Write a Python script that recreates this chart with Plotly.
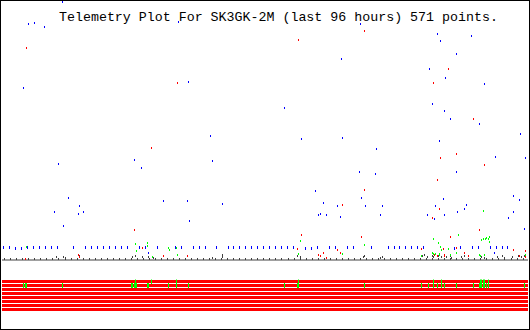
import plotly.graph_objects as go

TITLE = "Telemetry Plot For SK3GK-2M (last 96 hours) 571 points."

# hours within the 96 h window, analog values 0..255
blue_t = [11.1, 4.9, 6.0, 7.7, 32.3, 4.0, 34.1, 65.5, 79.4, 80.1, 85.6, 83.0, 61.9, 78.1, 81.0, 88.0, 78.5, 51.6,
          38.1, 24.1, 38.5, 10.4, 25.4, 12.2, 29.4, 33.8, 40.2, 14.1, 9.5, 14.8, 13.9, 34.3,
          80.8, 81.8, 87.2, 94.7, 54.6, 62.1, 79.9, 68.4, 90.0, 95.6, 65.2, 68.1, 82.9, 57.3, 65.7, 80.5, 93.4, 94.5,
          58.6, 61.3, 66.4, 69.4, 79.2, 84.7, 84.5, 83.2, 93.3, 57.7, 58.2, 59.3, 69.0, 61.7, 77.6, 80.7, 79.0, 92.5,
          11.3, 26.8, 95.4, 89.8]
blue_v = [255.0, 233.3, 234.3, 230.3, 235.3, 170.0, 176.0, 233.3, 223.4, 216.5, 221.4, 203.6, 198.7, 188.8, 179.9, 174.0, 154.2, 150.3,
          122.6, 98.9, 97.9, 94.9, 90.9, 61.3, 58.3, 58.3, 55.4, 53.4, 47.4, 47.4, 45.5, 38.6,
          147.3, 139.4, 134.4, 124.6, 119.6, 120.6, 117.6, 109.7, 101.8, 100.8, 87.0, 85.0, 87.0, 68.2, 61.3, 60.3, 63.3, 59.3,
          56.3, 53.4, 53.4, 53.4, 53.4, 54.4, 50.4, 47.4, 47.4, 44.5, 45.5, 44.5, 44.5, 42.5, 44.5, 44.5, 40.5, 41.5,
          33.6, 6.9, 30.6, 6.9]

beacon_t = [0.2, 1.3, 2.4, 3.5, 4.6, 5.7, 6.8, 7.9, 9.0, 10.1, 13.0, 15.2, 16.3, 17.4, 18.5, 19.6, 20.7, 21.8, 22.9,
            25.1, 26.2, 28.3, 31.6, 32.7, 34.9, 36.0, 37.1, 39.1, 41.3, 42.2, 43.3, 44.4, 45.5, 46.6, 47.7, 48.8,
            49.9, 51.0, 52.1, 53.2, 55.4, 56.4, 57.5, 59.7, 60.8, 63.0, 64.1, 67.4, 70.5, 71.6, 72.6, 73.7, 74.8,
            75.9, 77.0, 82.5, 83.6, 85.8, 86.9, 89.1, 90.2, 91.3, 92.3]
beacon_v = [12.5, 12.5, 11.5, 11.5, 12.5, 12.5, 12.5, 12.5, 12.5, 12.5, 12.5, 12.5, 12.5, 12.5, 12.5, 12.5, 12.5, 12.5, 12.5,
            12.5, 12.5, 12.5, 12.5, 12.5, 12.5, 12.5, 12.5, 12.5, 12.5, 12.5, 12.5, 12.5, 12.5, 12.5, 12.5, 12.5,
            12.5, 12.5, 12.5, 12.5, 11.5, 11.5, 12.5, 12.5, 12.5, 12.5, 12.5, 12.5, 12.5, 12.5, 12.5, 12.5, 12.5,
            12.5, 12.5, 11.5, 12.5, 12.5, 12.5, 12.5, 12.5, 12.5, 12.5]

red_t = [4.4, 32.1, 66.1, 54.2, 81.4, 78.8, 27.2, 86.1, 80.1, 83.0, 88.0, 79.4, 66.2, 62.1, 79.9, 78.5,
         24.1, 25.6, 13.9, 14.1, 4.2, 29.4, 54.6, 65.7, 54.0, 57.7, 58.6, 58.2, 59.3, 61.3, 61.7, 33.8,
         87.2, 81.8, 76.5, 80.5, 82.9, 93.4, 95.6, 79.0, 79.4, 80.8, 80.7, 84.5, 85.2, 94.5, 95.6]
red_v = [209.6, 175.0, 226.4, 217.5, 188.8, 175.0, 110.7, 139.4, 100.8, 104.8, 93.9, 79.1, 69.2, 54.4, 50.4, 41.5,
         29.7, 11.9, 4.9, 3.0, 1.0, 4.0, 24.7, 22.7, 10.9, 4.9, 6.9, 4.0, 2.0, 9.9, 6.9, 4.0,
         29.7, 22.7, 10.9, 10.9, 11.9, 9.9, 8.9, 4.9, 4.0, 4.9, 4.0, 6.9, 4.0, 4.0, 3.0]

green_t = [87.8, 4.4, 24.3, 26.5, 26.6, 24.5, 27.4, 30.3, 30.5, 31.9, 32.1, 54.4, 66.1, 54.2, 62.1,
           83.4, 78.7, 87.6, 87.8, 88.3, 88.5, 88.9, 88.7, 88.9, 79.6, 80.1, 81.4, 78.5, 78.8, 79.2,
           79.9, 80.3, 79.8, 83.0, 81.8, 88.0, 87.2, 87.4, 76.5, 95.6]
green_v = [48.4, 12.9, 15.8, 16.8, 13.8, 8.9, 3.0, 11.9, 9.9, 11.9, 4.9, 18.8, 14.8, 5.9, 5.9,
           24.7, 20.8, 19.8, 20.8, 20.8, 21.7, 22.7, 20.8, 17.8, 16.8, 12.9, 10.9, 6.9, 5.9, 5.9,
           5.9, 9.9, 4.9, 6.9, 4.9, 4.9, 4.9, 4.0, 4.0, 4.9]

gray_t = [0.5, 1.6, 2.7, 3.8, 4.9, 6.0, 7.1, 8.2, 9.3, 10.4, 11.5, 12.6, 13.7, 14.8, 15.9, 17.0, 18.1, 19.2,
          20.3, 21.4, 22.5, 23.6, 24.7, 25.8, 26.9, 28.0, 29.1, 30.2, 31.3, 32.4, 33.5, 34.6, 35.7, 36.8,
          37.9, 39.0, 40.1, 41.2, 42.3, 43.4, 44.5, 45.6, 46.7, 47.8, 48.9, 50.0, 51.1, 52.2, 53.3, 54.4,
          55.5, 56.6, 57.7, 58.8, 59.9, 61.0, 62.1, 63.2, 64.3, 65.4, 66.5, 67.6, 68.7, 69.8, 70.9, 72.0,
          73.1, 74.2, 75.3, 76.4, 77.5, 78.6, 79.7, 80.8, 81.9, 83.0, 84.1, 85.2, 86.3, 87.4, 88.5, 89.6,
          90.7, 91.8, 92.9, 94.0, 95.1,
          10.0, 11.3, 11.5, 14.1, 23.9, 24.3, 25.6, 26.8, 27.4, 27.7, 38.5, 40.2, 40.3, 54.0, 54.4, 65.9,
          66.2, 69.0, 69.4, 76.8, 77.2, 77.7, 78.5, 78.8, 79.6, 80.3, 81.2, 81.8, 82.1, 83.9, 84.5, 87.6,
          88.1, 90.5, 91.4, 91.8, 93.1, 94.2, 94.9, 95.4]
gray_v = [1.0, 1.0, 1.0, 1.0, 1.0, 1.0, 1.0, 1.0, 1.0, 1.0, 1.0, 1.0, 1.0, 1.0, 1.0, 1.0, 1.0, 1.0,
          1.0, 1.0, 1.0, 1.0, 1.0, 1.0, 1.0, 1.0, 1.0, 1.0, 1.0, 1.0, 1.0, 1.0, 1.0, 1.0,
          1.0, 1.0, 1.0, 1.0, 1.0, 1.0, 1.0, 1.0, 1.0, 1.0, 1.0, 1.0, 1.0, 1.0, 1.0, 1.0,
          1.0, 1.0, 1.0, 1.0, 1.0, 1.0, 1.0, 1.0, 1.0, 1.0, 1.0, 1.0, 1.0, 1.0, 1.0, 1.0,
          1.0, 1.0, 1.0, 1.0, 1.0, 1.0, 1.0, 1.0, 1.0, 1.0, 1.0, 1.0, 1.0, 1.0, 1.0, 1.0,
          1.0, 1.0, 1.0, 1.0, 1.0,
          3.0, 3.0, 2.0, 4.0, 3.0, 4.0, 3.0, 3.0, 3.0, 2.0, 2.0, 5.0, 3.0, 4.0, 3.0, 3.0,
          4.0, 2.0, 3.0, 4.0, 5.0, 3.0, 4.0, 3.0, 4.0, 3.0, 3.0, 4.0, 2.0, 3.0, 4.0, 3.0,
          2.0, 3.0, 4.0, 2.0, 3.0, 4.0, 3.0, 4.0]

# digital bits: row index and times where the bit is set
BIT_ROWS = [0, 1, 2, 3, 4, 5, 6, 7]
WINDOW = [-0.3, 96.0]
bit0_on = [24.3, 27.2, 31.9, 54.2, 78.7, 80.3, 87.4, 87.6, 87.8, 88.1, 88.7]
bit1_on = [4.0, 4.2, 4.4, 11.1, 23.7, 23.9, 24.1, 24.3, 24.5, 26.5, 26.6, 26.8, 30.3, 31.9, 34.1, 51.5,
           54.0, 54.2, 66.1, 76.5, 77.9, 78.7, 79.4, 80.3, 80.8, 82.9, 86.1, 87.2, 87.4, 87.6, 87.8,
           88.0, 88.5, 88.7, 95.4]

W, H = 530, 330
fig = go.Figure()

def dots(t, v, color):
    fig.add_trace(go.Scatter(x=t, y=v, mode="markers", yaxis="y", showlegend=False, hoverinfo="skip",
                             marker=dict(symbol="line-ns", size=2, color=color,
                                         line=dict(width=1, color=color))))

dots(gray_t, gray_v, "#404040")
dots(beacon_t, beacon_v, "#0000ff")
dots(blue_t, blue_v, "#0000ff")
dots(red_t, red_v, "#ff0000")
dots(green_t, green_v, "#00ff00")

for r in BIT_ROWS:
    fig.add_trace(go.Scatter(x=WINDOW, y=[r, r], mode="lines", yaxis="y2", showlegend=False,
                             hoverinfo="skip", line=dict(color="#ff0000", width=3)))
for r, on in [(0, bit0_on), (1, bit1_on)]:
    fig.add_trace(go.Scatter(x=on, y=[r] * len(on), mode="markers", yaxis="y2", showlegend=False,
                             hoverinfo="skip",
                             marker=dict(symbol="line-ns", size=3, color="#00ff00",
                                         line=dict(width=1, color="#00ff00"))))

fig.update_layout(
    width=W, height=H, margin=dict(l=0, r=0, t=0, b=0),
    paper_bgcolor="white", plot_bgcolor="white",
    xaxis=dict(domain=[2 / W, 528 / W], range=[0, 96], showgrid=False, zeroline=False,
               showticklabels=False, showline=False, ticks=""),
    yaxis=dict(domain=[1 - 262 / H, 1], range=[-2, 257], showgrid=False, zeroline=True,
               zerolinecolor="#a0a0a0", zerolinewidth=2, showticklabels=False, ticks=""),
    yaxis2=dict(domain=[1 - 311.5 / H, 1 - 279.5 / H], range=[7.5, -0.5], anchor="x",
                showgrid=False, zeroline=False, showticklabels=False, ticks=""),
    shapes=[dict(type="rect", xref="paper", yref="paper", x0=0, x1=1, y0=0, y1=1,
                 line=dict(color="black", width=2), layer="above")],
    annotations=[dict(text=TITLE, xref="paper", yref="paper", x=278.5 / W, y=1 - 17.5 / H,
                      xanchor="center", yanchor="middle", showarrow=False,
                      font=dict(family="Liberation Mono", size=13.3, color="black"))],
)

crisp = ("document.querySelectorAll('.main-svg').forEach(function(s){"
         "s.style.shapeRendering='crispEdges';});")
fig.write_html("out.html", post_script=crisp)
